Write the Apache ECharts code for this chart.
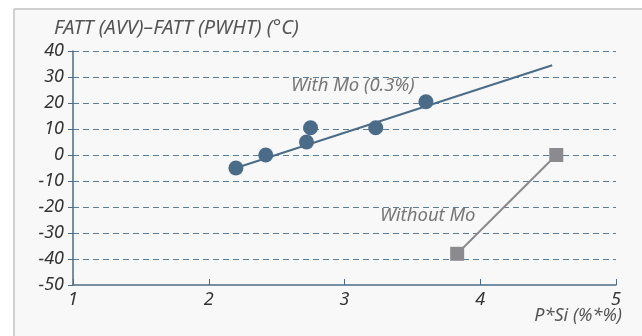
<!DOCTYPE html>
<html>
<head>
<meta charset="utf-8">
<script src="https://cdn.jsdelivr.net/npm/echarts@6/dist/echarts.min.js"></script>
<style>
  html, body { margin: 0; padding: 0; background: #ffffff; overflow: hidden; }
  #chart { position: absolute; left: 0; top: 0; width: 642px; height: 336px; }
</style>
</head>
<body>
<div id="chart"></div>
<script>
// FATT shift vs. P*Si, with and without molybdenum
const withMoPoints = [[2.2, -5], [2.42, 0], [2.72, 5], [2.75, 10.5], [3.23, 10.5], [3.6, 20.5]];
const withMoTrend = [[2.2, -5], [4.53, 34.5]];
const withoutMoPoints = [[3.83, -38], [4.56, 0]];
const xTicks = [1, 2, 3, 4, 5];
const yTicks = [-50, -40, -30, -20, -10, 0, 10, 20, 30, 40];

const blue = '#4a6c89';
const grey = '#8b8b8f';
const font = '"Noto Sans", "Open Sans", sans-serif';

const chart = echarts.init(document.getElementById('chart'), null, { renderer: 'canvas' });
chart.setOption({
  animation: false,
  backgroundColor: '#ffffff',
  textStyle: { fontFamily: font },
  grid: { left: 73, right: 26, top: 51, bottom: 51 },
  xAxis: {
    type: 'value', min: xTicks[0], max: xTicks[xTicks.length - 1], interval: 1,
    axisLine: { show: true, onZero: false, lineStyle: { color: blue, width: 1.5 } },
    axisTick: { show: true, inside: true, length: 6, lineStyle: { color: blue } },
    axisLabel: { color: '#333', fontSize: 18, fontStyle: 'italic', fontFamily: font, margin: 6 },
    splitLine: { show: false }
  },
  yAxis: {
    type: 'value', min: yTicks[0], max: yTicks[yTicks.length - 1], interval: 10,
    axisLine: { show: true, lineStyle: { color: blue, width: 1.5 } },
    axisTick: { show: true, length: 5, lineStyle: { color: blue } },
    axisLabel: { color: '#333', fontSize: 18, fontStyle: 'italic', fontFamily: font, margin: 9 },
    splitLine: { show: true, showMinLine: false,
                 lineStyle: { color: '#5a7d9a', width: 1.2, type: [6, 4] } }
  },
  graphic: [
    // panel background with a light border along its top and left edges
    { type: 'rect', left: 13, top: 8, z: -10, silent: true,
      shape: { width: 629, height: 328 }, style: { fill: '#f8f8f8' } },
    { type: 'line', z: -9, silent: true,
      shape: { x1: 14, y1: 9, x2: 642, y2: 9 }, style: { stroke: '#cfcfcf', lineWidth: 2 } },
    { type: 'line', z: -9, silent: true,
      shape: { x1: 14, y1: 9, x2: 14, y2: 336 }, style: { stroke: '#cfcfcf', lineWidth: 2 } },
    { type: 'text', left: 54, top: 18,
      style: { text: 'FATT (AVV)–FATT (PWHT) (°C)', fill: '#555', font: 'italic 20px ' + font } },
    { type: 'text', right: 20, top: 307,
      style: { text: 'P*Si (%*%)', fill: '#555', font: 'italic 18px ' + font } },
    { type: 'text', left: 291, top: 76,
      style: { text: 'With Mo (0.3%)', fill: '#777', font: 'italic 18.5px ' + font } },
    { type: 'text', left: 380, top: 206,
      style: { text: 'Without Mo', fill: '#777', font: 'italic 18.5px ' + font } }
  ],
  series: [
    { type: 'line', data: withMoTrend, symbol: 'none',
      lineStyle: { color: blue, width: 2 }, z: 2 },
    { type: 'scatter', data: withMoPoints, symbol: 'circle', symbolSize: 15,
      itemStyle: { color: blue, opacity: 1 }, z: 3 },
    { type: 'line', data: withoutMoPoints, symbol: 'rect', symbolSize: 14, showAllSymbol: true,
      lineStyle: { color: grey, width: 2 }, itemStyle: { color: grey }, z: 3 }
  ]
});
</script>
</body>
</html>
